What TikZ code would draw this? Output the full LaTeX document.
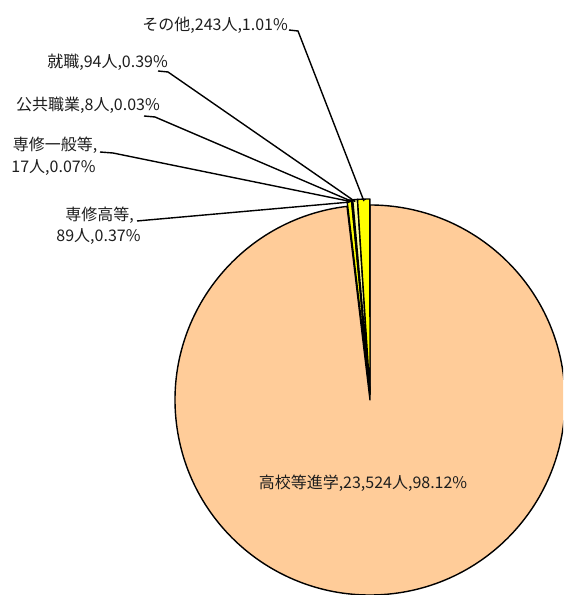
\documentclass[tikz,border=0pt]{standalone}
\usepackage{fontspec}
\newfontfamily\jp{Noto Sans CJK JP}
\usetikzlibrary{calc}
\definecolor{peach}{RGB}{255,204,153}
\definecolor{pyellow}{RGB}{255,255,0}
\definecolor{lyellow}{RGB}{255,255,153}
\definecolor{myellow}{RGB}{255,255,102}
\definecolor{txt}{RGB}{30,30,30}
\begin{document}
\begin{tikzpicture}[x=1pt,y=1pt,
  lbl/.style={font=\jp\fontsize{16}{18}\selectfont, inner sep=0pt, text=txt},
  slice/.style={draw=black, line width=1.4pt, line join=round},
  leader/.style={draw=black, line width=1.4pt}]
\useasboundingbox (0,0) rectangle (563,595);
\clip (0,0) rectangle (563,595);
\fill[white] (0,0) rectangle (563,595);

\coordinate (C) at (370,195);
\coordinate (S) at (370,201);

% main slice
\draw[slice, fill=peach] (C) -- +(96.77:195) arc[start angle=96.77, end angle=450, radius=195] -- cycle;
% small (exploded) slices
\draw[slice, fill=pyellow] (S) -- +(96.77:195) arc[start angle=96.77, end angle=95.44, radius=195] -- cycle;
\draw[slice, fill=myellow] (S) -- +(95.44:195) arc[start angle=95.44, end angle=95.19, radius=195] -- cycle;
\draw[slice, fill=myellow] (S) -- +(95.19:195) arc[start angle=95.19, end angle=95.08, radius=195] -- cycle;
\draw[slice, fill=lyellow] (S) -- +(95.08:195) arc[start angle=95.08, end angle=93.68, radius=195] -- cycle;
\draw[slice, fill=pyellow] (S) -- +(93.68:195) arc[start angle=93.68, end angle=90.04, radius=195] -- cycle;

% attachment points on slices
\coordinate (e1) at ($(S)+(91.8:193)$);
\coordinate (e2) at ($(S)+(94.4:193)$);
\coordinate (e3) at ($(S)+(95.13:193)$);
\coordinate (e4) at ($(S)+(95.3:193)$);
\coordinate (e5) at ($(S)+(96.1:193)$);

% labels
\node[lbl, anchor=east] (l1) at (288,570) {その他,243人,1.01\%};
\node[lbl, anchor=east] (l2) at (168,533) {就職,94人,0.39\%};
\node[lbl, anchor=east] (l3) at (160,490) {公共職業,8人,0.03\%};
\node[lbl] (l4a) at (55,450) {専修一般等,};
\node[lbl] (l4b) at (53.5,427) {17人,0.07\%};
\node[lbl] (l5a) at (99.5,380) {専修高等,};
\node[lbl] (l5b) at (98.5,358) {89人,0.37\%};
\node[lbl] (l0) at (363,112) {高校等進学,23,524人,98.12\%};

% leader start / elbow points
\coordinate (s1) at (289,565); \coordinate (k1) at (298,564);
\coordinate (s2) at (158,524); \coordinate (k2) at (168,523);
\coordinate (s3) at (144,479); \coordinate (k3) at (155,478);
\coordinate (s4) at (100,443); \coordinate (k4) at (113,442);
\coordinate (s5) at (137,374); \coordinate (k5) at (148,375);

\draw[leader] (s1) -- (k1) -- (e1);
\draw[leader] (s2) -- (k2) -- (e2);
\draw[leader] (s3) -- (k3) -- (e3);
\draw[leader] (s4) -- (k4) -- (e4);
\draw[leader] (s5) -- (k5) -- (e5);
\end{tikzpicture}
\end{document}
